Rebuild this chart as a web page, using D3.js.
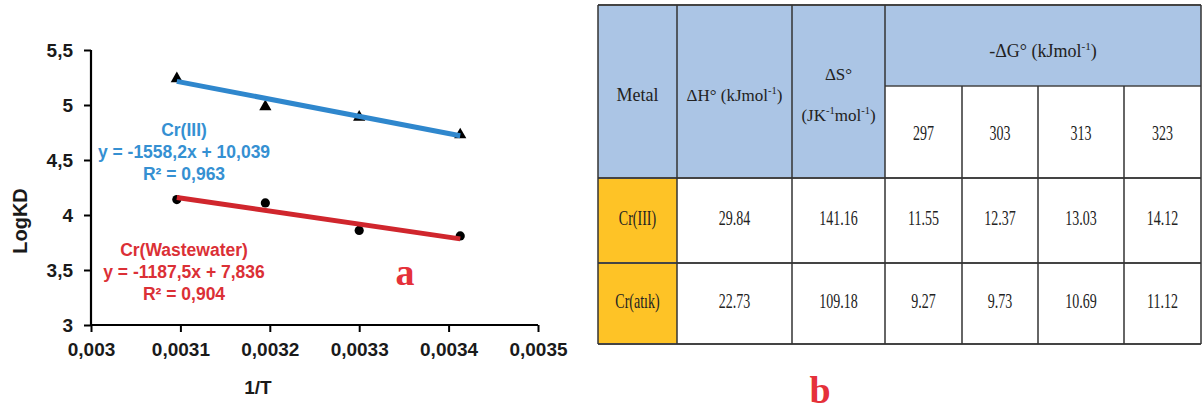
<!DOCTYPE html>
<html><head><meta charset="utf-8">
<script src="https://cdn.jsdelivr.net/npm/d3@7/dist/d3.min.js"></script>
<style>body{margin:0;background:#fff}svg{display:block}</style>
</head><body>
<svg id="c" width="1203" height="412"></svg>
<script>
// ---- chart (a) data ----
const invT = [0.003096, 0.003195, 0.003300, 0.003413];
const logKD_CrIII = [5.24, 4.985, 4.89, 4.73];
const logKD_CrWW = [4.14, 4.11, 3.86, 3.81];
const fitCrIII = {slope: -1558.2, intercept: 10.039};
const fitCrWW = {slope: -1187.5, intercept: 7.836};
const labelCrIII = ["Cr(III)", "y = -1558,2x + 10,039", "R² = 0,963"];
const labelCrWW = ["Cr(Wastewater)", "y = -1187,5x + 7,836", "R² = 0,904"];
const xTicks = [0.003, 0.0031, 0.0032, 0.0033, 0.0034, 0.0035];
const yTicks = [3, 3.5, 4, 4.5, 5, 5.5];

// ---- table (b) data ----
const metals = ["Cr(III)", "Cr(atık)"];
const dH = ["29.84", "22.73"];
const dS = ["141.16", "109.18"];
const temps = ["297", "303", "313", "323"];
const dG = [["11.55", "12.37", "13.03", "14.12"], ["9.27", "9.73", "10.69", "11.12"]];

const svg = d3.select("#c");
const x = d3.scaleLinear().domain([0.003, 0.0035]).range([91, 538]);
const y = d3.scaleLinear().domain([3, 5.5]).range([325, 50]);
const comma = v => String(v).replace(".", ",");
const sans = "Liberation Sans, Arial, sans-serif";

const gx = svg.append("g").attr("transform", "translate(0,325)")
  .call(d3.axisBottom(x).tickValues(xTicks).tickFormat(comma).tickSize(7).tickSizeOuter(0).tickPadding(11));
const gy = svg.append("g").attr("transform", "translate(91,0)")
  .call(d3.axisLeft(y).tickValues(yTicks).tickFormat(comma).tickSize(7).tickSizeOuter(0).tickPadding(11));
[gx, gy].forEach(g => {
  g.select(".domain").attr("stroke", "#000").attr("stroke-width", 2.2);
  g.selectAll(".tick line").attr("stroke", "#000").attr("stroke-width", 2);
  g.selectAll(".tick text").attr("font-family", sans).attr("font-weight", "bold").attr("font-size", 19).attr("fill", "#1a1a1a");
});
gy.select(".domain").attr("d", "M0,325V50");
gx.select(".domain").attr("d", "M91,0H538");

svg.append("text").attr("transform", "translate(27,221) rotate(-90)").attr("text-anchor", "middle")
  .attr("font-family", sans).attr("font-weight", "bold").attr("font-size", 20).attr("fill", "#1a1a1a").text("LogKD");
svg.append("text").attr("x", 258).attr("y", 394).attr("text-anchor", "middle")
  .attr("font-family", sans).attr("font-weight", "bold").attr("font-size", 19).attr("fill", "#1a1a1a").text("1/T");

// markers
const tri = d3.symbol().type(d3.symbolTriangle).size(65);
svg.append("g").selectAll("path").data(invT).join("path")
  .attr("d", tri).attr("transform", (d, i) => `translate(${x(d)},${y(logKD_CrIII[i])})`).attr("fill", "#000");
svg.append("g").selectAll("circle").data(invT).join("circle")
  .attr("cx", d => x(d)).attr("cy", (d, i) => y(logKD_CrWW[i])).attr("r", 4.6).attr("fill", "#000");

// trend lines
const ext = d3.extent(invT);
function trend(f, color) {
  svg.append("line").attr("x1", x(ext[0])).attr("x2", x(ext[1]))
    .attr("y1", y(f.slope * ext[0] + f.intercept)).attr("y2", y(f.slope * ext[1] + f.intercept))
    .attr("stroke", color).attr("stroke-width", 5);
}
trend(fitCrIII, "#2f87cd");
trend(fitCrWW, "#d0262d");

function label(lines, cx, y0, color) {
  svg.append("g").selectAll("text").data(lines).join("text")
    .attr("x", cx).attr("y", (d, i) => y0 + i * 22).attr("text-anchor", "middle")
    .attr("font-family", sans).attr("font-size", 17.5).attr("font-weight", 600).attr("fill", color).text(d => d);
}
label(labelCrIII, 184, 136, "#3590d2");
label(labelCrWW, 184, 256, "#db3036");

svg.append("text").attr("x", 405).attr("y", 285).attr("text-anchor", "middle")
  .attr("font-family", "Liberation Serif, Times New Roman, serif").attr("font-weight", "bold").attr("font-size", 38).attr("fill", "#e5313a").text("a");
svg.append("text").attr("x", 820).attr("y", 403).attr("text-anchor", "middle")
  .attr("font-family", "Liberation Serif, Times New Roman, serif").attr("font-weight", "bold").attr("font-size", 38).attr("fill", "#e5313a").text("b");

// ---- table ----
const cols = [598, 677, 792, 885, 962, 1038, 1124, 1201];
const rTop = 5, rMid = 86, rHead = 178, r1 = 263, rBot = 344;
const serif = "Liberation Serif, Times New Roman, serif";
const blue = "#abc5e5", gold = "#fec326", line = "#333";
const T = svg.append("g");
T.append("rect").attr("x", cols[0]).attr("y", rTop).attr("width", cols[3] - cols[0]).attr("height", rHead - rTop).attr("fill", blue);
T.append("rect").attr("x", cols[3]).attr("y", rTop).attr("width", cols[7] - cols[3]).attr("height", rMid - rTop).attr("fill", blue);
T.append("rect").attr("x", cols[0]).attr("y", rHead).attr("width", cols[1] - cols[0]).attr("height", rBot - rHead).attr("fill", gold);

const hl = (x1, x2, yy, w) => T.append("line").attr("x1", x1).attr("x2", x2).attr("y1", yy).attr("y2", yy).attr("stroke", "#444").attr("stroke-width", w);
const vl = (xx, y1, y2, w) => T.append("line").attr("x1", xx).attr("x2", xx).attr("y1", y1).attr("y2", y2).attr("stroke", line).attr("stroke-width", w);
hl(cols[0], cols[7], rTop, 2);
hl(cols[3], cols[7], rMid, 1.6);
hl(cols[0], cols[7], rHead, 2);
hl(cols[0], cols[7], r1, 2);
hl(cols[0], cols[7], rBot, 2);
cols.forEach((c, i) => {
  if (i >= 4 && i <= 6) vl(c, rMid, rBot, 1.5);
  else vl(c, rTop, rBot, 1.5);
});

function ttext(tx, ty, html, size, sy) {
  const t = T.append("text").attr("transform", `translate(${tx},${ty}) scale(1,${sy || 1})`)
    .attr("text-anchor", "middle").attr("dominant-baseline", "middle")
    .attr("font-family", serif).attr("font-size", size).attr("fill", "#222");
  html.forEach(p => {
    const s = t.append("tspan").text(p[0]);
    if (p[1] === "sup") s.attr("baseline-shift", "super").attr("font-size", size * 0.62);
  });
}
const mid = (a, b) => (a + b) / 2;
ttext(mid(cols[0], cols[1]), 97, [["Metal"]], 18);
ttext(mid(cols[1], cols[2]), 97, [["ΔH° (kJmol"], ["-1", "sup"], [")"]], 17);
ttext(mid(cols[2], cols[3]), 76, [["ΔS°"]], 17);
ttext(mid(cols[2], cols[3]), 117, [["(JK"], ["-1", "sup"], ["mol"], ["-1", "sup"], [")"]], 17);
ttext(mid(cols[3], cols[7]), 53, [["-ΔG°  (kJmol"], ["-1", "sup"], [")"]], 18);
temps.forEach((t, i) => ttext(mid(cols[3 + i], cols[4 + i]), 135, [[t]], 14, 1.45));
metals.forEach((m, r) => {
  const cy = r === 0 ? mid(rHead, r1) : mid(r1, rBot);
  ttext(mid(cols[0], cols[1]), cy, [[m]], 14, 1.45);
  ttext(mid(cols[1], cols[2]), cy, [[dH[r]]], 14, 1.45);
  ttext(mid(cols[2], cols[3]), cy, [[dS[r]]], 14, 1.45);
  dG[r].forEach((v, i) => ttext(mid(cols[3 + i], cols[4 + i]), cy, [[v]], 14, 1.45));
});
</script>
</body></html>
